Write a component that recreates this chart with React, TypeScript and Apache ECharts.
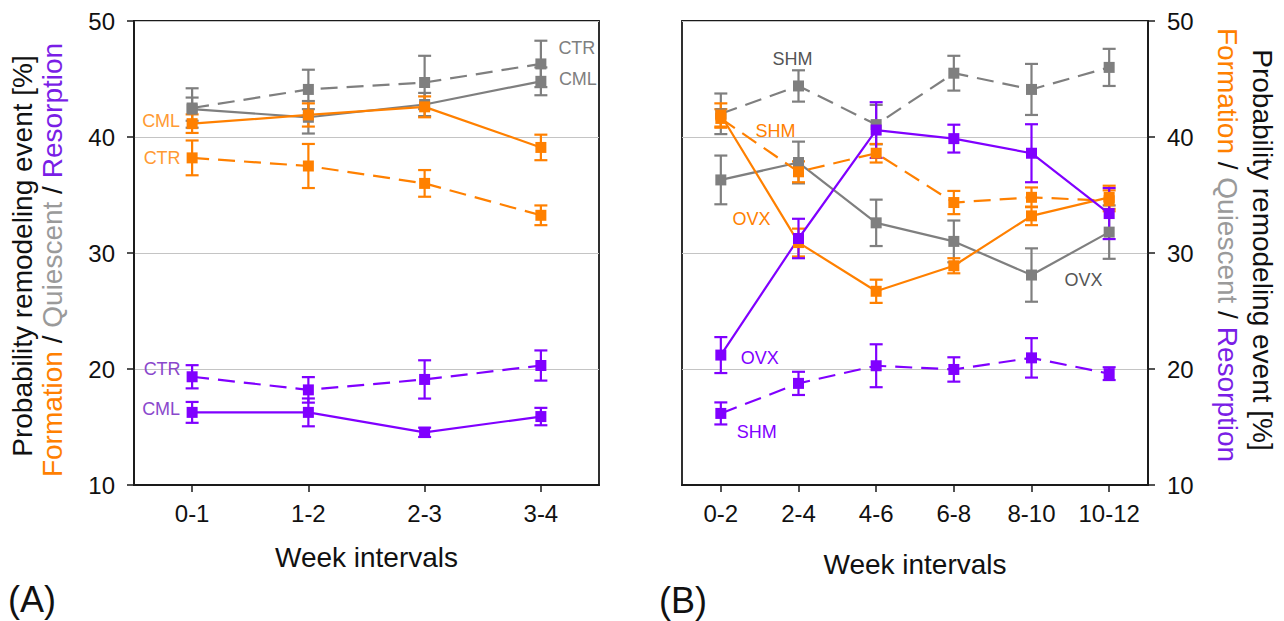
import React, { useEffect, useRef } from 'react';
import * as echarts from 'echarts';

// ---------- data ----------
const catsA = ['0-1', '1-2', '2-3', '3-4'];
const catsB = ['0-2', '2-4', '4-6', '6-8', '8-10', '10-12'];
const yMin = 10;
const yMax = 50;
const yStep = 10;

// Panel A (CTR dashed, CML solid)
const aFormCTR = [38.2, 37.5, 36.0, 33.25];
const aFormCTRErr = [1.5, 1.9, 1.15, 0.85];
const aFormCML = [41.15, 41.9, 42.6, 39.1];
const aFormCMLErr = [0.8, 1.0, 0.9, 1.1];
const aQuiCTR = [42.5, 44.1, 44.7, 46.3];
const aQuiCTRErr = [1.7, 1.7, 2.3, 2.0];
const aQuiCML = [42.4, 41.7, 42.8, 44.8];
const aQuiCMLErr = [1.0, 1.4, 1.0, 1.2];
const aResCTR = [19.33, 18.2, 19.1, 20.3];
const aResCTRErr = [1.0, 1.1, 1.65, 1.3];
const aResCML = [16.26, 16.26, 14.54, 15.9];
const aResCMLErr = [0.9, 1.2, 0.4, 0.75];

// Panel B (SHM dashed, OVX solid)
const bFormSHM = [41.6, 37.0, 38.6, 34.35, 34.8, 34.5];
const bFormSHMErr = [0.8, 0.9, 0.8, 1.0, 0.85, 0.9];
const bFormOVX = [41.9, 30.9, 26.7, 28.9, 33.2, 34.8];
const bFormOVXErr = [1.0, 1.2, 1.0, 0.65, 0.8, 1.0];
const bQuiSHM = [42.0, 44.4, 41.07, 45.5, 44.1, 46.0];
const bQuiSHMErr = [1.75, 1.35, 1.7, 1.5, 2.2, 1.6];
const bQuiOVX = [36.3, 37.8, 32.6, 31.0, 28.1, 31.8];
const bQuiOVXErr = [2.1, 1.8, 2.0, 1.8, 2.3, 2.3];
const bResSHM = [16.17, 18.76, 20.28, 19.96, 20.96, 19.6];
const bResSHMErr = [0.95, 1.0, 1.85, 1.05, 1.7, 0.55];
const bResOVX = [21.2, 31.25, 40.6, 39.86, 38.6, 33.4];
const bResOVXErr = [1.55, 1.7, 2.4, 1.2, 2.5, 2.2];

// ---------- styles ----------
const FONT = '"Liberation Sans", Arial, Helvetica, sans-serif';
const ORANGE = '#FF8000';
const GRAY = '#7F7F7F';
const PURPLE = '#8000FF';
const AXIS = '#1a1a1a';

type LabelCfg = { index: number; text: string; offset: [number, number]; color: string };

function lineSeries(
  values: number[],
  color: string,
  dashed: boolean,
  gi: number,
  lab?: LabelCfg
) {
  return {
    type: 'line',
    xAxisIndex: gi,
    yAxisIndex: gi,
    symbol: 'rect',
    symbolSize: 11,
    z: 3,
    lineStyle: { color, width: 2.2, type: dashed ? [17, 9] : 'solid' },
    itemStyle: { color },
    data: values.map((v, i) =>
      lab && lab.index === i
        ? {
            value: v,
            label: {
              show: true,
              position: 'inside',
              offset: lab.offset,
              formatter: lab.text,
              color: lab.color,
              fontSize: 18,
              fontFamily: FONT,
            },
          }
        : v
    ),
  };
}

function errSeries(values: number[], errs: number[], color: string, gi: number) {
  return {
    type: 'custom',
    xAxisIndex: gi,
    yAxisIndex: gi,
    z: 2,
    encode: { x: 0, y: [1, 2] },
    data: values.map((v, i) => [i, v - errs[i], v + errs[i]]),
    renderItem: (params: any, api: any) => {
      const x = api.value(0);
      const lo = api.coord([x, api.value(1)]);
      const hi = api.coord([x, api.value(2)]);
      const w = 6.5;
      const st = { stroke: color, lineWidth: 2.2 };
      return {
        type: 'group',
        children: [
          { type: 'line', shape: { x1: lo[0], y1: lo[1], x2: hi[0], y2: hi[1] }, style: st },
          { type: 'line', shape: { x1: lo[0] - w, y1: lo[1], x2: lo[0] + w, y2: lo[1] }, style: st },
          { type: 'line', shape: { x1: hi[0] - w, y1: hi[1], x2: hi[0] + w, y2: hi[1] }, style: st },
        ],
      };
    },
  };
}

function xAxis(cats: string[], gi: number, gap: number) {
  return {
    type: 'category',
    gridIndex: gi,
    data: cats,
    boundaryGap: true,
    axisLine: { show: true, lineStyle: { color: AXIS, width: 1.8 } },
    axisTick: { show: true, alignWithLabel: true, interval: 0, length: 7, lineStyle: { color: AXIS, width: 1.5 } },
    axisLabel: { color: '#111', fontSize: 24, fontFamily: FONT, margin: 16, interval: 0, hideOverlap: false },
    splitLine: { show: false },
    name: 'Week intervals',
    nameLocation: 'middle',
    nameGap: gap,
    nameTextStyle: { color: '#111', fontSize: 28, fontFamily: FONT },
  };
}

function yAxis(gi: number, pos: 'left' | 'right') {
  return {
    type: 'value',
    gridIndex: gi,
    position: pos,
    min: yMin,
    max: yMax,
    interval: yStep,
    axisLine: { show: true, lineStyle: { color: AXIS, width: 1.8 } },
    axisTick: { show: true, length: 7, lineStyle: { color: AXIS, width: 1.5 } },
    axisLabel: { color: '#111', fontSize: 24, fontFamily: FONT, margin: 19 },
    splitLine: { show: true, lineStyle: { color: '#c4c4c4', width: 1 } },
  };
}

const titleRich = {
  o: { fill: ORANGE, color: ORANGE, fontSize: 28, fontFamily: FONT },
  g: { fill: '#9a9a9a', color: '#9a9a9a', fontSize: 28, fontFamily: FONT },
  p: { fill: '#7a1ee6', color: '#7a1ee6', fontSize: 28, fontFamily: FONT },
  k: { fill: '#111', color: '#111', fontSize: 28, fontFamily: FONT },
};
const colorTitle = '{o|Formation}{k| / }{g|Quiescent}{k| / }{p|Resorption}';
const blackTitle = 'Probability remodeling event [%]';

export default function App() {
  const ref = useRef<HTMLDivElement>(null);
  useEffect(() => {
    if (!ref.current) return;
    const chart = echarts.init(ref.current, undefined, { renderer: 'svg' });
    const aOrangeLbl = '#FF9A33';
    const aPurpleLbl = '#8a48cc';
    const option: any = {
      animation: false,
      backgroundColor: '#fff',
      grid: [
        { left: 134, top: 21, width: 465, height: 464, show: true, borderColor: AXIS, borderWidth: 1.8, backgroundColor: 'transparent' },
        { left: 682, top: 21, width: 466, height: 464, show: true, borderColor: AXIS, borderWidth: 1.8, backgroundColor: 'transparent' },
      ],
      xAxis: [xAxis(catsA, 0, 58), xAxis(catsB, 1, 65)],
      yAxis: [yAxis(0, 'left'), yAxis(1, 'right')],
      series: [
        // Panel A
        errSeries(aQuiCTR, aQuiCTRErr, GRAY, 0),
        errSeries(aQuiCML, aQuiCMLErr, GRAY, 0),
        errSeries(aFormCTR, aFormCTRErr, ORANGE, 0),
        errSeries(aFormCML, aFormCMLErr, ORANGE, 0),
        errSeries(aResCTR, aResCTRErr, PURPLE, 0),
        errSeries(aResCML, aResCMLErr, PURPLE, 0),
        lineSeries(aQuiCTR, GRAY, true, 0, { index: 3, text: 'CTR', offset: [36, -16], color: GRAY }),
        lineSeries(aQuiCML, GRAY, false, 0, { index: 3, text: 'CML', offset: [37, -2], color: GRAY }),
        lineSeries(aFormCTR, ORANGE, true, 0, { index: 0, text: 'CTR', offset: [-30, 0], color: aOrangeLbl }),
        lineSeries(aFormCML, ORANGE, false, 0, { index: 0, text: 'CML', offset: [-31, -3], color: aOrangeLbl }),
        lineSeries(aResCTR, PURPLE, true, 0, { index: 0, text: 'CTR', offset: [-30, -8], color: aPurpleLbl }),
        lineSeries(aResCML, PURPLE, false, 0, { index: 0, text: 'CML', offset: [-31, -3], color: aPurpleLbl }),
        // Panel B
        errSeries(bQuiSHM, bQuiSHMErr, GRAY, 1),
        errSeries(bQuiOVX, bQuiOVXErr, GRAY, 1),
        errSeries(bFormSHM, bFormSHMErr, ORANGE, 1),
        errSeries(bFormOVX, bFormOVXErr, ORANGE, 1),
        errSeries(bResSHM, bResSHMErr, PURPLE, 1),
        errSeries(bResOVX, bResOVXErr, PURPLE, 1),
        lineSeries(bQuiSHM, GRAY, true, 1, { index: 1, text: 'SHM', offset: [-6, -27], color: '#555' }),
        lineSeries(bQuiOVX, GRAY, false, 1, { index: 4, text: 'OVX', offset: [52, 5], color: '#555' }),
        lineSeries(bFormSHM, ORANGE, true, 1, { index: 1, text: 'SHM', offset: [-23, -41], color: ORANGE }),
        lineSeries(bFormOVX, ORANGE, false, 1, { index: 1, text: 'OVX', offset: [-47, -24], color: ORANGE }),
        lineSeries(bResSHM, PURPLE, true, 1, { index: 0, text: 'SHM', offset: [36, 19], color: PURPLE }),
        lineSeries(bResOVX, PURPLE, false, 1, { index: 0, text: 'OVX', offset: [39, 3], color: PURPLE }),
      ],
      graphic: [
        {
          type: 'text', x: 22, y: 256, rotation: Math.PI / 2,
          style: { text: blackTitle, fill: '#111', fontSize: 28, fontFamily: FONT, align: 'center', verticalAlign: 'middle' },
        },
        {
          type: 'text', x: 52, y: 260, rotation: Math.PI / 2,
          style: { text: colorTitle, rich: titleRich, fill: '#111', fontSize: 28, fontFamily: FONT, align: 'center', verticalAlign: 'middle' },
        },
        {
          type: 'text', x: 1227, y: 245, rotation: -Math.PI / 2,
          style: { text: colorTitle, rich: titleRich, fill: '#111', fontSize: 28, fontFamily: FONT, align: 'center', verticalAlign: 'middle' },
        },
        {
          type: 'text', x: 1262, y: 250, rotation: -Math.PI / 2,
          style: { text: blackTitle, fill: '#111', fontSize: 28, fontFamily: FONT, align: 'center', verticalAlign: 'middle' },
        },
        {
          type: 'text', x: 8, y: 599,
          style: { text: '(A)', fill: '#111', fontSize: 36, fontFamily: FONT, align: 'left', verticalAlign: 'middle' },
        },
        {
          type: 'text', x: 659, y: 600,
          style: { text: '(B)', fill: '#111', fontSize: 36, fontFamily: FONT, align: 'left', verticalAlign: 'middle' },
        },
      ],
    };
    chart.setOption(option);
    return () => chart.dispose();
  }, []);
  return (
    <div
      ref={ref}
      style={{ position: 'absolute', left: 0, top: 0, width: 1284, height: 621, background: '#fff' }}
    />
  );
}
